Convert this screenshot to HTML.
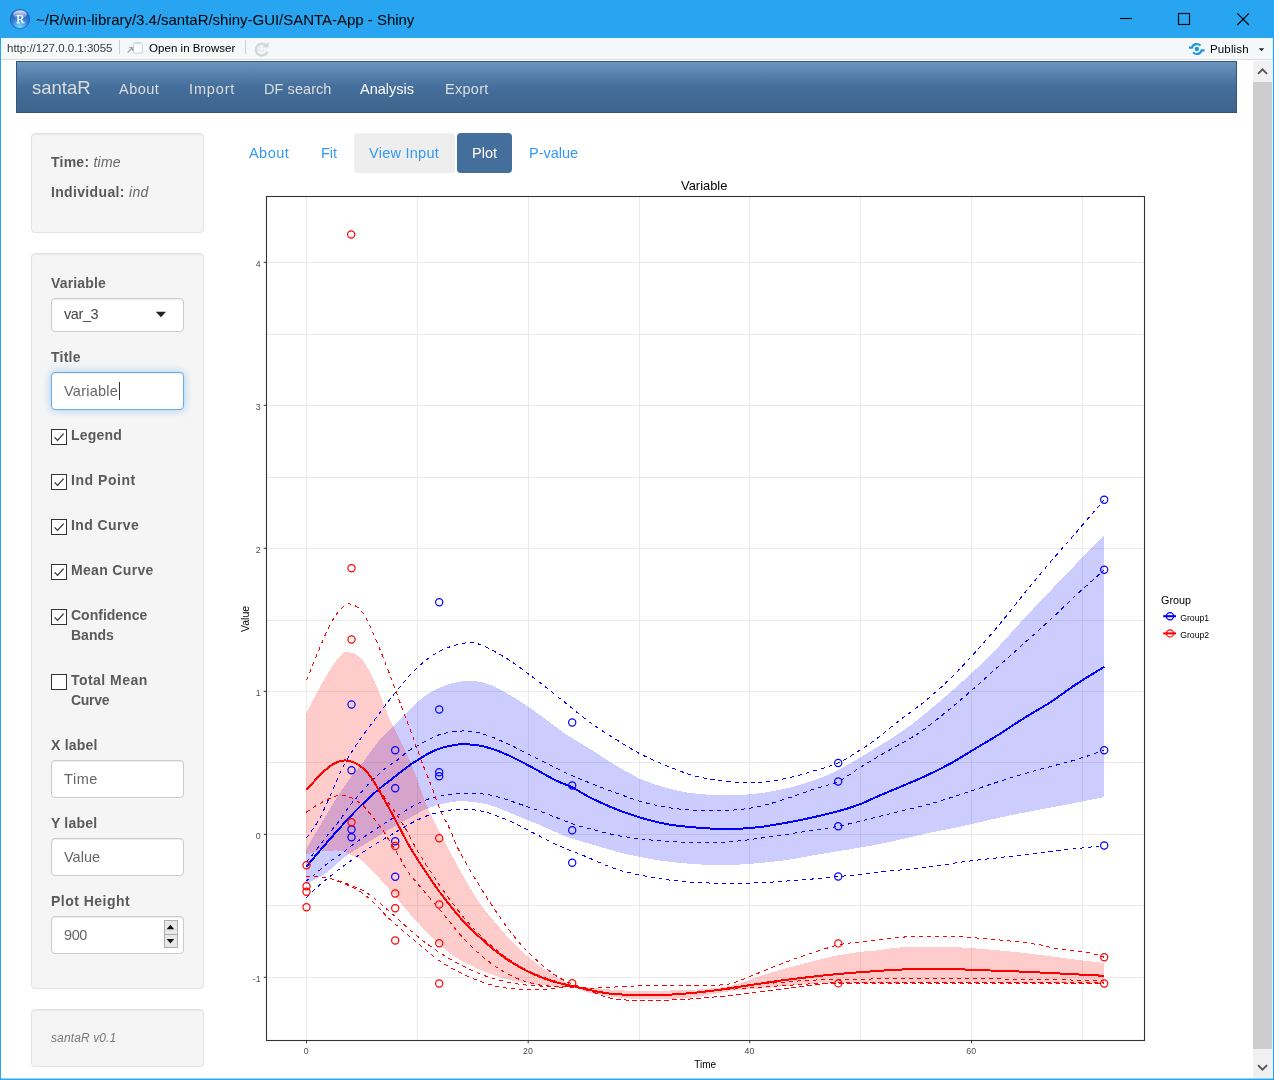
<!DOCTYPE html>
<html lang="en">
<head>
<meta charset="utf-8">
<title>~/R/win-library/3.4/santaR/shiny-GUI/SANTA-App - Shiny</title>
<style>
html,body{margin:0;padding:0;}
body{width:1274px;height:1080px;position:relative;overflow:hidden;background:#fff;font-family:"Liberation Sans",Arial,sans-serif;font-size:14px;color:#666;}
.abs{position:absolute;}
.t{position:absolute;white-space:nowrap;line-height:20px;height:20px;}
#titlebar{left:0;top:0;width:1274px;height:38px;background:#27a5f1;}
#toolbar{left:1px;top:38px;width:1272px;height:21px;background:#f4f8f9;border-bottom:1px solid #d9dddf;}
#lb{left:0;top:38px;width:1px;height:1042px;background:#27a5f1;}
#rb{left:1272px;top:38px;width:2px;height:1042px;background:linear-gradient(90deg,rgba(39,165,241,.12) 0,rgba(39,165,241,.12) 50%,#27a5f1 50%,#27a5f1 100%);}
#bb{left:0;top:1078px;width:1274px;height:2px;background:linear-gradient(rgba(39,165,241,.5) 0,rgba(39,165,241,.5) 50%,#27a5f1 50%,#27a5f1 100%);}
#navbar{left:16px;top:61px;width:1219px;height:50px;border:1px solid #345578;background:linear-gradient(#6d94bf,#446e9b 50%,#3e648d);}
.nav{color:#ddd;font-size:14.5px;}
.well{position:absolute;left:31px;width:171px;background:#f5f5f5;border:1px solid #e3e3e3;border-radius:4px;box-shadow:inset 0 1px 1px rgba(0,0,0,.05);}
.lbl{font-weight:bold;color:#5a5a5a;}
.inp{position:absolute;left:51px;width:131px;height:36px;background:#fff;border:1px solid #ccc;border-radius:4px;box-shadow:inset 0 1px 1px rgba(0,0,0,.075);}
.cb{position:absolute;left:51px;width:14px;height:14px;border:1px solid #333;background:#fff;}
.cb svg{position:absolute;left:0;top:0;}
.pill{position:absolute;top:133px;height:40px;border-radius:4px;}
.lnk{color:#3399f3;}
#p1,#p2,#p3,#p4,#p5,#i1,#i2,#i3,#i4,#i5{font-size:14.5px;}
#i1{color:#444}/*LS*/#ttl{letter-spacing:-0.02px}#oib{letter-spacing:0.05px}#pub{letter-spacing:0.15px}#n1{letter-spacing:0.50px}#n2{letter-spacing:0.86px}#n3{letter-spacing:0.07px}#n5{letter-spacing:0.28px}#p1{letter-spacing:0.45px}#p3{letter-spacing:0.26px}#s1{letter-spacing:0.24px}#s2{letter-spacing:0.34px}#l1{letter-spacing:0.16px}#l2{letter-spacing:0.23px}#c1{letter-spacing:0.18px}#c2{letter-spacing:0.55px}#c3{letter-spacing:0.40px}#c4{letter-spacing:0.33px}#c6{letter-spacing:0.46px}#c6b{letter-spacing:-0.28px}#l3{letter-spacing:0.20px}#l4{letter-spacing:0.20px}#l5{letter-spacing:0.48px}#i1{letter-spacing:-0.42px}#i2{letter-spacing:0.24px}#i3{letter-spacing:0.57px}#i5{letter-spacing:-0.40px}#ver{letter-spacing:0.12px}/*ENDLS*/
#sbar{left:1253px;top:61px;width:19px;height:1017px;background:#f0f0f0;}
#thumb{left:1253px;top:82px;width:19px;height:967px;background:#cdcdcd;}
</style>
</head>
<body>
<!-- window chrome -->
<div class="abs" id="titlebar"></div>
<svg class="abs" style="left:9px;top:8px" width="22" height="22" viewBox="0 0 22 22">
<defs><radialGradient id="rg" cx="50%" cy="88%" r="85%"><stop offset="0" stop-color="#74dcfa"/><stop offset="0.22" stop-color="#58b4ee"/><stop offset="0.5" stop-color="#3b80d6"/><stop offset="0.85" stop-color="#2a62c4"/><stop offset="1" stop-color="#1d4fb2"/></radialGradient>
<linearGradient id="gl" x1="0" y1="0" x2="0" y2="1"><stop offset="0" stop-color="#fff" stop-opacity=".85"/><stop offset="1" stop-color="#fff" stop-opacity=".12"/></linearGradient></defs>
<circle cx="10.9" cy="11.1" r="9.7" fill="url(#rg)" stroke="#1f52b6" stroke-width="0.7"/>
<ellipse cx="11" cy="6.2" rx="6.9" ry="3.9" fill="url(#gl)"/>
<text x="11.3" y="15.2" font-family="Liberation Serif, serif" font-size="12.4" fill="#fff" stroke="#fff" stroke-width="0.25" text-anchor="middle">R</text>
</svg>
<div class="t" id="ttl" style="left:36px;top:10px;font-size:15px;color:#000;">~/R/win-library/3.4/santaR/shiny-GUI/SANTA-App - Shiny</div>
<svg class="abs" style="left:1110px;top:0" width="150" height="38" viewBox="1110 0 150 38" fill="none" stroke="#000" stroke-width="1.1">
<path d="M1120 18.5H1132"/><rect x="1178.5" y="13.5" width="11" height="11"/><path d="M1237.3 13.3L1249 25M1249 13.3L1237.3 25"/>
</svg>
<div class="abs" id="toolbar"></div>
<div class="abs" id="lb"></div><div class="abs" id="rb"></div><div class="abs" id="bb"></div>
<div class="t" id="url" style="left:7px;top:38px;font-size:11.5px;color:#3a3a3a;">http://127.0.0.1:3055</div>
<div class="abs" style="left:119px;top:40px;width:1px;height:14px;background:#cdd1d4"></div>
<svg class="abs" style="left:126px;top:41px" width="18" height="14" viewBox="126 41 18 14">
<path d="M133.5 53V44.6Q133.5 42.6 135.5 42.6H140.2Q142.3 42.6 142.3 44.6V53Z" fill="#fff" stroke="#c3ccd4" stroke-width="0.9"/><path d="M134.2 44.2Q134.3 43.2 135.6 43.2H140.1Q141.5 43.2 141.6 44.2Z" fill="#bcd7f0"/>
<path d="M127.6 52.6L132 48.2M129.2 47.6H132.6V51" stroke="#9aa4ad" stroke-width="1.3" fill="none"/>
</svg>
<div class="t" id="oib" style="left:149px;top:38px;font-size:11.5px;color:#000;">Open in Browser</div>
<div class="abs" style="left:245px;top:40px;width:1px;height:14px;background:#cdd1d4"></div>
<svg class="abs" style="left:253px;top:40px" width="18" height="18" viewBox="253 40 18 18" fill="none">
<path d="M266.6 46.2A5.9 5.9 0 1 0 267.4 51.6" stroke="#d2d7dc" stroke-width="2.4"/><path d="M268.6 41.4V47.6H262.4Z" fill="#d2d7dc"/>
<path d="M263.6 49.4A2.5 2.5 0 1 1 261.4 46.6" stroke="#dfe3e7" stroke-width="1"/>
</svg>
<svg class="abs" style="left:1188px;top:42px" width="18" height="14" viewBox="0 0 18 14" fill="none" stroke="#1a96e2" stroke-width="2.1">
<circle cx="8.8" cy="7" r="2.2" fill="#1a96e2" stroke="none"/>
<path d="M1 5.6H4A5 5 0 0 1 12.5 3.6"/><path d="M16.6 8.4H13.6A5 5 0 0 1 5.1 10.4"/>
</svg>
<div class="t" id="pub" style="left:1210px;top:39px;font-size:11.5px;color:#000;">Publish</div>
<svg class="abs" style="left:1258px;top:48px" width="8" height="4" viewBox="0 0 8 4"><path d="M0.8 0.3H6.2L3.5 3.2Z" fill="#222"/></svg>
<!-- scrollbar -->
<div class="abs" id="sbar"></div><div class="abs" id="thumb"></div>
<svg class="abs" style="left:1253px;top:61px" width="19" height="21" viewBox="0 0 19 21"><path d="M5 12.8L9.5 8.3L14 12.8" fill="none" stroke="#555" stroke-width="1.8"/></svg>
<svg class="abs" style="left:1253px;top:1057px" width="19" height="21" viewBox="0 0 19 21"><path d="M5 8.2L9.5 12.7L14 8.2" fill="none" stroke="#555" stroke-width="1.8"/></svg>
<!-- navbar -->
<div class="abs" id="navbar"></div>
<div class="t nav" id="n0" style="left:32px;top:78px;font-size:18.5px;">santaR</div>
<div class="t nav" id="n1" style="left:119px;top:79px;">About</div>
<div class="t nav" id="n2" style="left:189px;top:79px;">Import</div>
<div class="t nav" id="n3" style="left:264px;top:79px;">DF search</div>
<div class="t nav" id="n4" style="left:360px;top:79px;color:#fff;">Analysis</div>
<div class="t nav" id="n5" style="left:445px;top:79px;">Export</div>
<!-- sidebar -->
<div class="well" style="top:133px;height:98px;"></div>
<div class="t" id="s1" style="left:51px;top:152px;"><b class="lbl">Time:</b> <i>time</i></div>
<div class="t" id="s2" style="left:51px;top:182px;"><b class="lbl">Individual:</b> <i>ind</i></div>
<div class="well" style="top:253px;height:734px;"></div>
<div class="t lbl" id="l1" style="left:51px;top:273px;">Variable</div>
<div class="inp" style="top:298px;height:32px;"></div>
<div class="t" id="i1" style="left:64px;top:304px;">var_3</div>
<svg class="abs" style="left:155px;top:311px" width="12" height="7" viewBox="0 0 12 7"><path d="M0.8 0.8H11L5.9 6.2Z" fill="#222"/></svg>
<div class="t lbl" id="l2" style="left:51px;top:347px;">Title</div>
<div class="inp" style="top:372px;border-color:#66afe9;box-shadow:inset 0 1px 1px rgba(0,0,0,.075),0 0 8px rgba(102,175,233,.6);"></div>
<div class="t" id="i2" style="left:64px;top:381px;">Variable</div>
<div class="abs" style="left:119px;top:382px;width:1px;height:18px;background:#333"></div>
<div class="cb" style="top:429px"><svg width="14" height="14"><path d="M2.6 7.4L5.6 10.4L11.6 3.6" fill="none" stroke="#333" stroke-width="1.3"/></svg></div>
<div class="t lbl" id="c1" style="left:71px;top:425px;">Legend</div>
<div class="cb" style="top:474px"><svg width="14" height="14"><path d="M2.6 7.4L5.6 10.4L11.6 3.6" fill="none" stroke="#333" stroke-width="1.3"/></svg></div>
<div class="t lbl" id="c2" style="left:71px;top:470px;">Ind Point</div>
<div class="cb" style="top:519px"><svg width="14" height="14"><path d="M2.6 7.4L5.6 10.4L11.6 3.6" fill="none" stroke="#333" stroke-width="1.3"/></svg></div>
<div class="t lbl" id="c3" style="left:71px;top:515px;">Ind Curve</div>
<div class="cb" style="top:564px"><svg width="14" height="14"><path d="M2.6 7.4L5.6 10.4L11.6 3.6" fill="none" stroke="#333" stroke-width="1.3"/></svg></div>
<div class="t lbl" id="c4" style="left:71px;top:560px;">Mean Curve</div>
<div class="cb" style="top:609px"><svg width="14" height="14"><path d="M2.6 7.4L5.6 10.4L11.6 3.6" fill="none" stroke="#333" stroke-width="1.3"/></svg></div>
<div class="t lbl" id="c5" style="left:71px;top:605px;">Confidence</div>
<div class="t lbl" id="c5b" style="left:71px;top:625px;">Bands</div>
<div class="cb" style="top:674px"></div>
<div class="t lbl" id="c6" style="left:71px;top:670px;">Total Mean</div>
<div class="t lbl" id="c6b" style="left:71px;top:690px;">Curve</div>
<div class="t lbl" id="l3" style="left:51px;top:735px;">X label</div>
<div class="inp" style="top:760px;"></div>
<div class="t" id="i3" style="left:64px;top:769px;">Time</div>
<div class="t lbl" id="l4" style="left:51px;top:813px;">Y label</div>
<div class="inp" style="top:838px;"></div>
<div class="t" id="i4" style="left:64px;top:847px;">Value</div>
<div class="t lbl" id="l5" style="left:51px;top:891px;">Plot Height</div>
<div class="inp" style="top:916px;"></div>
<div class="t" id="i5" style="left:64px;top:925px;">900</div>
<svg class="abs" style="left:164px;top:920px" width="14" height="28" viewBox="0 0 14 28">
<rect x="0.5" y="0.5" width="13" height="27" fill="#e8e8e8" stroke="#adadad"/><path d="M0.5 14.5H13.5" stroke="#adadad"/>
<path d="M2.6 9.3H10.2L6.4 4.7Z" fill="#111"/><path d="M2.6 18.9H10.2L6.4 23.5Z" fill="#111"/>
</svg>
<div class="well" style="top:1009px;height:56px;"></div>
<div class="t" id="ver" style="left:51px;top:1028px;font-size:12px;font-style:italic;color:#777;">santaR v0.1</div>
<!-- pills -->
<div class="pill" style="left:354px;width:101px;background:#eee;"></div>
<div class="pill" style="left:457px;width:55px;background:#446e9b;"></div>
<div class="t lnk" id="p1" style="left:249px;top:143px;">About</div>
<div class="t lnk" id="p2" style="left:321px;top:143px;">Fit</div>
<div class="t lnk" id="p3" style="left:369px;top:143px;">View Input</div>
<div class="t" id="p4" style="left:472px;top:143px;color:#fff;">Plot</div>
<div class="t lnk" id="p5" style="left:529px;top:143px;">P-value</div>
<svg id="plot" width="1019" height="907" viewBox="234 173 1019 907" style="position:absolute;left:234px;top:173px" font-family="Liberation Sans, Arial, sans-serif">
<path d="M306.5 196.5V1040.5M417.5 196.5V1040.5M528.5 196.5V1040.5M639.5 196.5V1040.5M749.5 196.5V1040.5M860.5 196.5V1040.5M971.5 196.5V1040.5M1082.5 196.5V1040.5M266.5 262.5H1144.5M266.5 334.5H1144.5M266.5 405.5H1144.5M266.5 477.5H1144.5M266.5 548.5H1144.5M266.5 620.5H1144.5M266.5 691.5H1144.5M266.5 762.5H1144.5M266.5 834.5H1144.5M266.5 905.5H1144.5M266.5 977.5H1144.5" stroke="#ebebeb" stroke-width="1" fill="none"/>
<g shape-rendering="crispEdges">
<path d="M306.3 849C309.6 843.4 320.4 824.9 326 815.5C331.6 806.1 335.6 799.5 340 792.7C344.4 786 348.5 780.3 352.5 775C356.5 769.7 359.8 766.4 364 761C368.2 755.6 372.4 748.5 377.6 742.5C382.8 736.5 387.9 732.1 395 725C402.1 717.9 412.5 706.2 420 700C427.5 693.8 432.9 690.6 440 687.5C447.1 684.4 455 682 462.5 681.2C470 680.5 477.1 680.7 485 683C492.9 685.3 500.8 689.7 510 695C519.2 700.3 530.8 708.5 540 715C549.2 721.5 556.7 728.1 565 733.8C573.3 739.4 581.7 743.5 590 748.8C598.3 754 606.7 760 615 765C623.3 770 631.7 775 640 778.8C648.3 782.5 656.7 785.1 665 787.5C673.3 789.9 681.7 791.8 690 793C698.3 794.2 706.7 794.7 715 795C723.3 795.3 731.7 795.4 740 795C748.3 794.6 756.7 793.8 765 792.5C773.3 791.2 781.7 789.6 790 787.5C798.3 785.4 807 782.9 815 780C823 777.1 830.8 773.8 838.2 770C845.8 766.2 852.2 762.1 860 757.5C867.8 752.9 877.1 747.5 885 742.5C892.9 737.5 900.8 732.3 907.5 727.5C914.2 722.7 917.9 719.6 925 713.8C932.1 707.9 941.7 699.8 950 692.5C958.3 685.2 966.7 677.9 975 670C983.3 662.1 991.7 653.8 1000 645C1008.3 636.2 1016.7 626.5 1025 617.5C1033.3 608.5 1041.7 600 1050 591.2C1058.3 582.5 1066 574.3 1075 565C1084 555.7 1099.4 540.4 1104.2 535.5L1104.2 797C1099.4 798 1086.1 800.8 1075 803C1063.9 805.2 1050 807.6 1037.5 810C1025 812.4 1012.5 814.8 1000 817.5C987.5 820.2 975 823.5 962.5 826.2C950 829 937.5 831 925 833.8C912.5 836.5 898.3 840.2 887.5 842.5C876.7 844.8 868.2 846 860 847.5C851.8 849 845.8 850 838.2 851.2C830.8 852.5 823 853.6 815 855C807 856.4 798.3 858.2 790 859.5C781.7 860.8 773.3 861.7 765 862.5C756.7 863.3 748.3 864.1 740 864.5C731.7 864.9 723.3 865.1 715 865C706.7 864.9 698.3 864.4 690 863.8C681.7 863.1 673.3 862.4 665 861.2C656.7 860.1 648.3 858.7 640 857C631.7 855.3 623.3 853.5 615 851.2C606.7 849 598.3 846.2 590 843.8C581.7 841.2 573.3 839.4 565 836.2C556.7 833.1 548.3 828.5 540 825C531.7 821.5 523.3 818.3 515 815C506.7 811.7 498.3 807.3 490 805C481.7 802.7 470.8 801.8 465 801.2C459.2 800.7 459.7 801 455.5 801.5C451.3 802 444.6 803.4 440 804.5C435.4 805.6 431.8 806.8 427.9 808.4C424 810 423.2 810.5 416.6 814.1C410 817.7 395.1 826.1 388.3 830C381.5 833.9 380.4 834.8 376 837.5C371.6 840.2 366.6 843.2 362 846C357.4 848.8 352.2 851.6 348.7 854C345.2 856.4 343.7 858 341.2 860.1C338.7 862.2 336.5 864.3 333.7 866.7C330.9 869.1 327.9 871.9 324.3 874.3C320.7 876.7 315 879.3 312 881C309 882.7 307.2 884 306.3 884.6Z" fill="#0000ff" fill-opacity="0.2"/>
<path d="M306.3 713.8C309 708.5 316.9 692.1 322.5 682.5C328.1 672.9 335.4 661 340 656C344.6 651 346.2 651.8 350 652.5C353.8 653.2 358.3 655 362.5 660C366.7 665 370.4 672.5 375 682.5C379.6 692.5 385.8 710.4 390 720C394.2 729.6 397 733.5 400.2 740C403.4 746.5 406.3 752.5 409 758.8C411.7 765.1 413.5 769.4 416.6 777.7C419.8 786 424 799.3 427.9 808.4C431.8 817.5 436.3 825.2 440 832.5C443.7 839.8 445.8 844.2 450 852C454.2 859.8 460 870.4 465 879C470 887.6 474.6 896.1 480 903.8C485.4 911.4 491.7 918.1 497.5 925C503.3 931.9 508.8 938.8 515 945C521.2 951.2 528.3 957.3 535 962.5C541.7 967.7 548.8 972.5 555 976.2C561.2 980 566.7 983.1 572.5 985C578.3 986.9 579.6 986.5 590 987.5C600.4 988.5 619.2 990.6 635 991C650.8 991.4 672.5 990.4 685 990C697.5 989.6 701.7 989.3 710 988.5C718.3 987.7 726.7 987.1 735 985C743.3 982.9 751.7 978.7 760 976C768.3 973.3 776.7 970.9 785 968.6C793.3 966.3 801.7 964.1 810 962C818.3 959.9 826.4 957.7 834.6 956C842.9 954.3 852.4 952.9 859.5 952C866.6 951.1 870.2 951.1 877 950.4C883.8 949.6 889.9 948.1 900 947.5C910.1 946.9 927.1 946.5 937.5 946.5C947.9 946.5 952.1 946.8 962.5 947.5C972.9 948.2 987.5 949.3 1000 950.5C1012.5 951.7 1025 953 1037.5 954.5C1050 956 1063.9 958.1 1075 959.5C1086.1 960.9 1099.4 962.4 1104.2 963L1104.2 983C1086.9 982.9 1034 982.6 1000 982.5C966 982.4 927 982.4 900 982.5C873 982.6 853 982.8 838 983C823 983.2 818.8 983.5 810 984C801.2 984.5 793.3 985.2 785 986C776.7 986.8 768.3 987.9 760 988.6C751.7 989.3 743.3 989.4 735 990.4C726.7 991.4 718.3 993.2 710 994.5C701.7 995.8 697.5 997.2 685 998C672.5 998.8 650.8 999.8 635 999C619.2 998.2 600.4 995 590 993C579.6 991 580.8 988.3 572.5 987C564.2 985.7 549.6 986 540 985C530.4 984 523.3 983.1 515 981.2C506.7 979.4 499.2 977.3 490 973.8C480.8 970.2 468.3 964.8 460 960C451.7 955.2 446.7 950.8 440 945C433.3 939.2 425.2 930.4 420 925C414.8 919.6 412.4 916.8 409 912.9C405.6 909 402.7 905.4 399.6 901.6C396.5 897.8 393.3 893.9 390.2 890.3C387.1 886.7 383.9 883.3 380.8 879.9C377.7 876.5 374.9 873 371.4 869.6C367.9 866.2 363.8 861.8 360 859.2C356.2 856.6 351.8 855.4 348.7 854C345.6 852.6 346.1 851.2 341.2 850.7C336.3 850.2 325.3 850.6 319.5 851.2C313.7 851.8 308.5 854 306.3 854.5Z" fill="#ff0000" fill-opacity="0.2"/>
<path d="M306.3 838C308.4 835.1 314.9 826.9 318.6 820.4C322.3 813.9 325.6 805.9 328.7 799C331.8 792.1 334.5 785.2 337.4 778.9C340.3 772.6 342.8 767.4 346.2 761.4C349.6 755.4 351.9 751.2 357.5 743.1C363.1 735 373.3 721.4 380 712.5C386.7 703.6 391.2 697.5 397.5 690C403.8 682.5 410.4 674 417.5 667.5C424.6 661 432.1 655.1 440 651C447.9 646.9 458.3 644.1 465 643C471.7 641.9 473.3 642.1 480 644.5C486.7 646.9 496.7 652.4 505 657.5C513.3 662.6 520 667.5 530 675C540 682.5 555 694.6 565 702.5C575 710.4 581.7 716.5 590 722.5C598.3 728.5 606.7 733.5 615 738.8C623.3 744 631.7 749.4 640 753.8C648.3 758.1 656.7 761.5 665 765C673.3 768.5 681.7 772 690 774.5C698.3 777 705.8 778.7 715 780C724.2 781.3 735.8 782.3 745 782.5C754.2 782.7 761.7 782.3 770 781.2C778.3 780.2 787.5 778 795 776.2C802.5 774.5 807.8 772.7 815 770.5C822.2 768.3 830.8 766.4 838.2 763C845.8 759.6 853.9 753.8 860 750C866.1 746.2 868.3 745 875 740C881.7 735 891.7 726.5 900 720C908.3 713.5 916.7 708.1 925 701.2C933.3 694.4 941.7 686.9 950 678.8C958.3 670.6 966.7 661.7 975 652.5C983.3 643.3 991.7 633.8 1000 623.8C1008.3 613.8 1016.7 602.7 1025 592.5C1033.3 582.3 1041.7 572.3 1050 562.5C1058.3 552.7 1066 544.2 1075 533.8C1084 523.3 1099.4 505.4 1104.2 499.8" stroke="#0000ff" stroke-width="1" stroke-dasharray="4 4" fill="none"/>
<path d="M306.3 862C307.1 861.1 307.5 861.2 311 856.8C314.5 852.4 322.8 841.3 327.4 835.4C332 829.5 334.9 826.6 338.7 821.6C342.5 816.6 346.6 809.7 350 805.3C353.4 800.9 356.1 798.4 358.8 795.3C361.5 792.2 363.4 789.6 366.3 786.5C369.2 783.4 373 779.5 376.4 776.4C379.8 773.2 383 770.2 386.4 767.6C389.8 765 392.7 763.5 396.5 760.7C400.3 757.9 404.8 753.6 409 750.7C413.2 747.8 416.4 746.2 421.6 743.5C426.8 740.8 433.2 736.6 440 734.5C446.8 732.4 455.8 731.2 462.5 731C469.2 730.8 472.9 731.1 480 733C487.1 734.9 496.7 738.8 505 742.5C513.3 746.2 520 750 530 755C540 760 555 767.8 565 772.5C575 777.2 581.7 779.7 590 783C598.3 786.3 606.7 789.5 615 792.5C623.3 795.5 631.7 798.8 640 801.2C648.3 803.7 656.7 805.5 665 807C673.3 808.5 681.7 809.4 690 810C698.3 810.6 706.7 810.6 715 810.5C723.3 810.4 731.7 810.4 740 809.5C748.3 808.6 756.7 807 765 805C773.3 803 781.7 800.2 790 797.5C798.3 794.8 807 791.4 815 788.8C823 786.1 830.8 785 838.2 781.5C845.8 778 852.2 772.3 860 767.5C867.8 762.7 877.1 757.1 885 752.5C892.9 747.9 900.8 744 907.5 740C914.2 736 917.9 734 925 728.8C932.1 723.5 941.7 715.6 950 708.8C958.3 701.9 966.7 694.8 975 687.5C983.3 680.2 991.7 672.5 1000 665C1008.3 657.5 1016.7 650 1025 642.5C1033.3 635 1041.7 627.7 1050 620C1058.3 612.3 1066 604.6 1075 596.2C1084 587.9 1099.4 574.2 1104.2 569.8" stroke="#0000ff" stroke-width="1" stroke-dasharray="4 4" fill="none"/>
<path d="M306.2 880.9C307.6 879.8 311.2 877.3 314.8 874.3C318.4 871.3 324.4 865.8 328 863C331.6 860.2 333.8 859.2 336.5 857.3C339.2 855.4 340.7 854.2 344 851.7C347.3 849.2 353 844.6 356.3 842.2C359.6 839.8 361 839 363.8 837.1C366.6 835.2 368.8 833.9 373.2 831C377.6 828.1 382.2 824.8 390 820C397.8 815.2 411.7 806.5 420 802.5C428.3 798.5 432.5 797.8 440 796.2C447.5 794.7 456.7 793.5 465 793.2C473.3 793 481.7 793.5 490 795C498.3 796.5 506.7 799.8 515 802.5C523.3 805.2 530.4 807.7 540 811.2C549.6 814.8 564.2 820.8 572.5 823.8C580.8 826.7 582.9 826.9 590 828.8C597.1 830.6 606.7 833.3 615 835C623.3 836.7 631.7 837.7 640 838.8C648.3 839.8 656.7 840.6 665 841.2C673.3 841.9 681.7 842.3 690 842.5C698.3 842.7 706.7 842.8 715 842.5C723.3 842.2 731.7 841.6 740 840.8C748.3 839.9 756.7 838.7 765 837.5C773.3 836.3 781.7 835 790 833.8C798.3 832.5 807 831.2 815 830C823 828.8 830.8 827.7 838.2 826.2C845.8 824.8 853.9 822.7 860 821.2C866.1 819.8 868.3 819.2 875 817.5C881.7 815.8 890.4 813.6 900 811.2C909.6 808.9 922.1 806.2 932.5 803.2C942.9 800.3 951.2 797.4 962.5 793.8C973.8 790.1 987.5 785.2 1000 781.2C1012.5 777.3 1025 773.5 1037.5 770C1050 766.5 1063.9 763.3 1075 760C1086.1 756.7 1099.4 751.9 1104.2 750.2" stroke="#0000ff" stroke-width="1" stroke-dasharray="4 4" fill="none"/>
<path d="M306.3 897.5C309 895 316.1 887.9 322.5 882.5C328.9 877.1 337.1 870.8 345 865C352.9 859.2 361.7 852.9 370 847.5C378.3 842.1 386.7 837.3 395 832.5C403.3 827.7 412.5 822.2 420 818.8C427.5 815.3 432.9 813.6 440 812C447.1 810.4 455 809.2 462.5 809.2C470 809.2 477.1 810 485 812C492.9 814 501.7 817.6 510 821.2C518.3 824.9 526.7 829.6 535 833.8C543.3 837.9 551.7 842.5 560 846.2C568.3 850 575.8 852.5 585 856.2C594.2 860 605.8 865.6 615 868.8C624.2 871.9 631.7 873.2 640 875C648.3 876.8 656.7 878.3 665 879.5C673.3 880.7 681.7 881.4 690 882C698.3 882.6 706.7 883 715 883.2C723.3 883.5 731.7 883.4 740 883.2C748.3 883.1 756.7 882.9 765 882.5C773.3 882.1 781.7 881.4 790 880.8C798.3 880.1 807 879.5 815 878.8C823 878 830.8 877.2 838.2 876.5C845.8 875.8 851.8 875.4 860 874.5C868.2 873.6 876.7 872.4 887.5 871.2C898.3 870.1 912.5 869 925 867.5C937.5 866 950 863.7 962.5 862C975 860.3 987.5 859 1000 857.5C1012.5 856 1025 854.7 1037.5 853.2C1050 851.8 1063.9 850 1075 848.8C1086.1 847.5 1099.4 846 1104.2 845.5" stroke="#0000ff" stroke-width="1" stroke-dasharray="4 4" fill="none"/>
<path d="M306.5 680.5C310 672.1 321.9 641.8 327.5 630C333.1 618.2 336.2 614.3 340 610C343.8 605.7 346.2 603.6 350 604C353.8 604.4 358.3 606.9 362.5 612.5C366.7 618.1 370.4 627.1 375 637.5C379.6 647.9 385.8 664.2 390 675C394.2 685.8 396 691.7 400 702.5C404 713.3 410.4 730.2 414 740C417.6 749.8 418.7 753.6 421.6 761.4C424.5 769.1 428.5 778.4 431.6 786.5C434.7 794.6 437.5 803.4 440.4 810.3C443.3 817.2 445.9 820.9 449.2 827.9C452.5 834.9 455.3 843.4 460 852.5C464.7 861.6 471.7 872.9 477.5 882.5C483.3 892.1 488.8 900.8 495 910C501.2 919.2 508.3 929.4 515 937.5C521.7 945.6 528.3 952.5 535 958.8C541.7 965 548.8 970.8 555 975C561.2 979.2 566.7 981.8 572.5 984C578.3 986.2 579.6 987.7 590 988C600.4 988.3 619.2 986.4 635 986C650.8 985.6 670.8 985.6 685 985.4C699.2 985.2 711.7 985.5 720 985C728.3 984.5 728.3 984.5 735 982.4C741.7 980.3 751.7 975.7 760 972.4C768.3 969.1 776.7 965.5 785 962.4C793.3 959.3 801.1 956.6 810 953.7C818.9 950.8 830 947 838.3 945C846.5 943 853 942.8 859.5 942C866 941.2 869 940.9 877 940C885 939.1 897.4 937.4 907.5 936.8C917.6 936.1 928.3 936.2 937.5 936.2C946.7 936.3 952.1 936.4 962.5 937C972.9 937.6 987.5 938.8 1000 940C1012.5 941.2 1027.9 943 1037.5 944.5C1047.1 946 1049.2 947.4 1057.5 948.8C1065.8 950.1 1079.7 951.1 1087.5 952.5C1095.3 953.9 1101.5 956.5 1104.2 957.2" stroke="#ff0000" stroke-width="1" stroke-dasharray="4 4" fill="none"/>
<path d="M306.3 812.2C308.8 810.6 315.7 805.6 321.1 802.8C326.5 800 333.7 796.1 338.7 795.3C343.7 794.5 347.3 796.1 351.3 797.8C355.3 799.5 359.2 802.4 362.6 805.3C366 808.2 368.3 811.6 371.4 815.4C374.5 819.2 378 823.1 381.4 827.9C384.8 832.7 388.4 839.2 391.5 844.2C394.6 849.2 397.3 853.2 400.2 858C403.1 862.8 402.4 864.4 409 873.1C415.6 881.8 430.7 898.9 440 910C449.3 921.1 456.7 931.2 465 940C473.3 948.8 481.7 956.2 490 962.5C498.3 968.8 506.7 973.8 515 977.5C523.3 981.2 530.4 983.3 540 985C549.6 986.7 564.2 986.5 572.5 987.5C580.8 988.5 583.8 989.2 590 991C596.2 992.8 602.5 996.4 610 998C617.5 999.6 624.7 1000.1 635 1000.4C645.3 1000.7 659.5 1000.5 672 1000C684.5 999.5 697.5 998.5 710 997.4C722.5 996.3 734.5 995.1 747 993.6C759.5 992.1 774.5 989.9 785 988.6C795.5 987.3 801.1 986.5 810 985.6C818.9 984.7 815 984 838.3 983.4C861.6 982.8 905.7 982 950 982C994.3 982 1078.5 983.2 1104.2 983.5" stroke="#ff0000" stroke-width="1" stroke-dasharray="4 4" fill="none"/>
<path d="M306.2 876.3C308.1 876.3 313.8 876.2 317.7 876.6C321.6 877 325.7 877.4 329.9 878.5C334.1 879.6 338.7 881.4 343.1 883.2C347.5 885 352.1 886.9 356.3 889.3C360.5 891.7 364.4 894.3 368.5 897.8C372.6 901.3 377.2 906.5 380.8 910.1C384.4 913.7 387.1 916.5 390.2 919.5C393.3 922.5 394.6 923.6 399.6 927.9C404.6 932.1 413.3 939.4 420 945C426.7 950.6 433.3 956.7 440 961.2C446.7 965.8 453.3 969.2 460 972.5C466.7 975.8 472.9 978.8 480 981.2C487.1 983.8 494.6 986.1 502.5 987.5C510.4 988.9 519.2 989.3 527.5 989.5C535.8 989.7 545 989.2 552.5 988.8C560 988.2 566.2 986.3 572.5 986.5C578.8 986.7 583.8 988.8 590 990C596.2 991.2 602.5 992.8 610 993.6C617.5 994.4 626.7 994.8 635 995C643.3 995.2 651.7 995.2 660 995C668.3 994.8 676.7 994.2 685 993.6C693.3 993 701.7 992.3 710 991.5C718.3 990.7 722.5 990 735 989C747.5 988 767.8 986.5 785 985.5C802.2 984.5 810.8 983.4 838.3 982.8C865.8 982.2 905.7 982 950 982C994.3 982 1078.5 982.7 1104.2 982.8" stroke="#ff0000" stroke-width="1" stroke-dasharray="4 4" fill="none"/>
<path d="M306.2 876.3C308.1 876.3 313.8 876.2 317.7 876.6C321.6 877 325.7 877.5 329.9 878.5C334.1 879.5 338.7 881 343.1 882.5C347.5 884 351.8 885.4 356.3 887.5C360.8 889.6 364.4 890.9 370 895C375.6 899.1 383.3 906.2 390 912C396.7 917.8 403.3 924.3 410 930C416.7 935.7 423.3 941.2 430 946C436.7 950.8 443.3 955.1 450 959C456.7 962.9 463.3 966.4 470 969.5C476.7 972.6 482.5 975.2 490 977.5C497.5 979.8 506.7 982.1 515 983.5C523.3 984.9 530.4 985.5 540 986C549.6 986.5 564.2 985.7 572.5 986.5C580.8 987.3 583.8 989.1 590 991C596.2 992.9 602.5 996.4 610 998C617.5 999.6 624.7 1000.1 635 1000.4C645.3 1000.7 659.5 1000.5 672 1000C684.5 999.5 697.5 998.5 710 997.4C722.5 996.3 734.5 995.1 747 993.6C759.5 992.1 774.5 989.9 785 988.6C795.5 987.3 801.1 986.5 810 985.6C818.9 984.7 815 983.8 838.3 983.4C861.6 983 905.7 983 950 983C994.3 983 1078.5 983.4 1104.2 983.5" stroke="#ff0000" stroke-width="1" stroke-dasharray="4 4" fill="none"/>
<path d="M306.3 790.2C308.8 787.5 316.5 778.3 321.1 773.9C325.7 769.5 329.9 766.1 333.7 763.9C337.5 761.7 340.3 760.8 343.7 760.5C347.1 760.2 350.4 761 353.8 762.4C357.2 763.8 360.9 766.3 363.8 768.9C366.7 771.5 368 773.1 371.4 777.7C374.8 782.3 379.8 790.4 384 796.5C388.2 802.6 392.8 808.5 396.5 814.1C400.2 819.8 403.1 824.5 406.5 830.4C409.9 836.3 413.2 843.4 416.6 849.3C420 855.2 423.9 861.3 426.6 865.6C429.3 869.9 429.8 870.4 432.9 875C436 879.6 439.6 885.7 445 893C450.4 900.3 458.3 911.2 465 919C471.7 926.8 478 933.5 485 940C492 946.5 499.2 952.6 507 958C514.8 963.4 523.8 968.6 532 972.5C540.2 976.4 549.2 979.2 556 981.5C562.8 983.8 566.8 984.6 572.5 986C578.2 987.4 583.8 988.7 590 990C596.2 991.3 602.5 992.8 610 993.6C617.5 994.4 626.7 994.8 635 995C643.3 995.2 651.7 995.2 660 995C668.3 994.8 676.7 994.3 685 993.6C693.3 992.9 701.7 992 710 991C718.3 990 726.7 988.5 735 987.4C743.3 986.3 751.7 985.4 760 984.5C768.3 983.6 776.7 982.7 785 982C793.3 981.3 801.1 980.7 810 980.3C818.9 979.9 815 979.8 838.3 979.5C861.6 979.2 905.7 978.3 950 978.5C994.3 978.7 1078.5 980.2 1104.2 980.5" stroke="#ff0000" stroke-width="1" stroke-dasharray="4 4" fill="none"/>
<path d="M306.3 866.8C308.8 863.9 316.5 854.6 321.1 849.3C325.7 844 328.7 840.4 333.7 834.8C338.7 829.1 346.5 820.5 351.3 815.4C356.1 810.3 358.2 808.2 362.6 804C367 799.8 372.2 794.8 377.6 790.2C383 785.6 390 780.5 395.2 776.4C400.4 772.3 404.6 768.8 409 765.7C413.4 762.6 417.4 760.1 421.6 757.6C425.8 755.1 429.7 752.6 434.1 750.7C438.5 748.8 443.3 747.3 448 746.2C452.7 745.1 456.8 744.2 462.5 744.2C468.2 744.3 475.4 744.7 482.5 746.2C489.6 747.8 497.1 750.4 505 753.8C512.9 757.1 521.7 761.9 530 766.2C538.3 770.6 547.9 776.5 555 780C562.1 783.5 566.7 784.6 572.5 787.5C578.3 790.4 582.9 794 590 797.5C597.1 801 606.7 805.4 615 808.8C623.3 812.1 631.7 815 640 817.5C648.3 820 656.7 822.2 665 823.8C673.3 825.3 681.7 826.2 690 827C698.3 827.8 707.5 828.4 715 828.8C722.5 829.1 727.5 829.3 735 829C742.5 828.7 751.7 828 760 827C768.3 826 776.7 824.5 785 823C793.3 821.5 801.1 820 810 818C818.9 816 829.9 813.5 838.2 811.2C846.6 809 853.9 806.5 860 804.2C866.1 802 868.3 800.4 875 797.5C881.7 794.6 891.7 790.5 900 787C908.3 783.5 916.7 780.1 925 776.2C933.3 772.4 941.7 768.3 950 763.8C958.3 759.2 966.7 753.8 975 748.8C983.3 743.8 991.7 739 1000 733.8C1008.3 728.5 1016.7 722.7 1025 717.5C1033.3 712.3 1041.7 707.9 1050 702.5C1058.3 697.1 1066 691 1075 685C1084 679 1099.4 669.8 1104.2 666.8" stroke="#0000ff" stroke-width="2" fill="none" stroke-linejoin="round"/>
<path d="M306.3 790.2C308.8 787.5 316.5 778.3 321.1 773.9C325.7 769.5 329.9 766.1 333.7 763.9C337.5 761.7 340.3 760.8 343.7 760.5C347.1 760.2 350.4 761 353.8 762.4C357.2 763.8 360.9 766.3 363.8 768.9C366.7 771.5 368.9 774.2 371.4 777.7C373.9 781.2 376 785.2 378.9 790.2C381.8 795.2 385.5 801.7 388.9 807.8C392.2 813.9 395.6 820.4 399 826.7C402.4 833 405.6 839.6 409 845.5C412.4 851.4 416 856.9 419.1 861.8C422.2 866.7 424.4 869.9 427.9 875C431.4 880.1 434.6 885.4 440 892.5C445.4 899.6 453.3 910 460 917.5C466.7 925 472.9 931 480 937.5C487.1 944 494.6 950.6 502.5 956.2C510.4 961.9 519.2 967.1 527.5 971.2C535.8 975.4 545 978.8 552.5 981.2C560 983.7 566.2 984.5 572.5 986C578.8 987.5 583.8 988.7 590 990C596.2 991.3 602.5 992.8 610 993.6C617.5 994.4 626.7 994.8 635 995C643.3 995.2 651.7 995.2 660 995C668.3 994.8 676.7 994.3 685 993.6C693.3 992.9 701.7 992 710 991C718.3 990 726.7 988.6 735 987.4C743.3 986.2 751.7 984.8 760 983.6C768.3 982.4 776.7 981.1 785 980C793.3 978.9 801.1 978 810 977C818.9 976 827.1 975 838.3 974C849.5 973 866.7 971.7 877 971C887.3 970.3 892 970 900 969.6C908 969.2 916.7 968.9 925 968.8C933.3 968.6 941.7 968.5 950 968.8C958.3 969 964.6 969.6 975 970C985.4 970.4 1000 970.8 1012.5 971.2C1025 971.8 1034.7 972.2 1050 973C1065.3 973.8 1095.2 975.3 1104.2 975.8" stroke="#ff0000" stroke-width="2" fill="none" stroke-linejoin="round"/>
</g>
<g fill="none" stroke="#0000ff" stroke-width="1.2"><circle cx="439.2" cy="602.2" r="3.6"/><circle cx="351.5" cy="704.5" r="3.6"/><circle cx="439.2" cy="709.5" r="3.6"/><circle cx="572.2" cy="722.5" r="3.6"/><circle cx="395.2" cy="750.2" r="3.6"/><circle cx="351.5" cy="770.2" r="3.6"/><circle cx="439.2" cy="772.2" r="3.6"/><circle cx="439.2" cy="776.2" r="3.6"/><circle cx="395.2" cy="788.2" r="3.6"/><circle cx="572.2" cy="785.5" r="3.6"/><circle cx="351.5" cy="829.5" r="3.6"/><circle cx="351.5" cy="837.2" r="3.6"/><circle cx="395.2" cy="841.2" r="3.6"/><circle cx="395.2" cy="876.8" r="3.6"/><circle cx="572.2" cy="830.2" r="3.6"/><circle cx="572.2" cy="862.8" r="3.6"/><circle cx="838.2" cy="763" r="3.6"/><circle cx="838.2" cy="781.5" r="3.6"/><circle cx="838.2" cy="826.2" r="3.6"/><circle cx="838.2" cy="876.5" r="3.6"/><circle cx="1104.2" cy="499.8" r="3.6"/><circle cx="1104.2" cy="569.8" r="3.6"/><circle cx="1104.2" cy="750.2" r="3.6"/><circle cx="1104.2" cy="845.5" r="3.6"/></g>
<g fill="none" stroke="#ff0000" stroke-width="1.2"><circle cx="351.2" cy="234.5" r="3.6"/><circle cx="351.5" cy="568.2" r="3.6"/><circle cx="351.5" cy="639.5" r="3.6"/><circle cx="306.5" cy="865.2" r="3.6"/><circle cx="306.5" cy="886.2" r="3.6"/><circle cx="306.5" cy="891.8" r="3.6"/><circle cx="306.5" cy="907.2" r="3.6"/><circle cx="351.5" cy="822.2" r="3.6"/><circle cx="395.2" cy="846" r="3.6"/><circle cx="395.2" cy="893.5" r="3.6"/><circle cx="395.2" cy="908.2" r="3.6"/><circle cx="395.2" cy="940.5" r="3.6"/><circle cx="439.2" cy="838.2" r="3.6"/><circle cx="439.2" cy="904.5" r="3.6"/><circle cx="439.2" cy="943.2" r="3.6"/><circle cx="439.2" cy="983.5" r="3.6"/><circle cx="572.2" cy="983.2" r="3.6"/><circle cx="838.3" cy="943.4" r="3.6"/><circle cx="838.3" cy="983.4" r="3.6"/><circle cx="1104.2" cy="957.2" r="3.6"/><circle cx="1104.2" cy="983.5" r="3.6"/></g>
<rect x="266.5" y="196.5" width="878" height="844" fill="none" stroke="#333" stroke-width="1.1"/>
<path d="M306.5 1040.5v2.8M528.2 1040.5v2.8M749.8 1040.5v2.8M971.5 1040.5v2.8M266.5 977.3h-2.8M266.5 834.3h-2.8M266.5 691.3h-2.8M266.5 548.3h-2.8M266.5 405.3h-2.8M266.5 262.3h-2.8" stroke="#333" stroke-width="1" fill="none"/>
<g font-size="8.8" fill="#4d4d4d">
<text x="306.2" y="1053.6" text-anchor="middle">0</text>
<text x="527.9" y="1053.6" text-anchor="middle">20</text>
<text x="749.5" y="1053.6" text-anchor="middle">40</text>
<text x="971.2" y="1053.6" text-anchor="middle">60</text>
<text x="260.6" y="981.6" text-anchor="end">-1</text>
<text x="260.6" y="838.6" text-anchor="end">0</text>
<text x="260.6" y="695.6" text-anchor="end">1</text>
<text x="260.6" y="552.6" text-anchor="end">2</text>
<text x="260.6" y="409.6" text-anchor="end">3</text>
<text x="260.6" y="266.6" text-anchor="end">4</text>
</g>
<text x="681" y="189.8" font-size="13.2" fill="#000" textLength="46.4" lengthAdjust="spacingAndGlyphs">Variable</text>
<text x="694.2" y="1067.7" font-size="11" fill="#000" textLength="21.8" lengthAdjust="spacingAndGlyphs">Time</text>
<text transform="translate(249.1 632) rotate(-90)" font-size="11" fill="#000" textLength="26.2" lengthAdjust="spacingAndGlyphs">Value</text>
<text x="1161" y="603.5" font-size="11" fill="#000" textLength="30" lengthAdjust="spacingAndGlyphs">Group</text>
<text x="1180.2" y="620.5" font-size="8.8" fill="#000" textLength="29" lengthAdjust="spacingAndGlyphs">Group1</text>
<text x="1180.2" y="637.5" font-size="8.8" fill="#000" textLength="29" lengthAdjust="spacingAndGlyphs">Group2</text>
<path d="M1163.2 616.2H1176" stroke="#0000ff" stroke-width="2.1"/><circle cx="1170" cy="616.2" r="3.6" fill="none" stroke="#0000ff" stroke-width="1.2"/>
<path d="M1163.2 633.4H1176" stroke="#ff0000" stroke-width="2.1"/><circle cx="1170" cy="633.4" r="3.6" fill="none" stroke="#ff0000" stroke-width="1.2"/>
</svg>
</body>
</html>
